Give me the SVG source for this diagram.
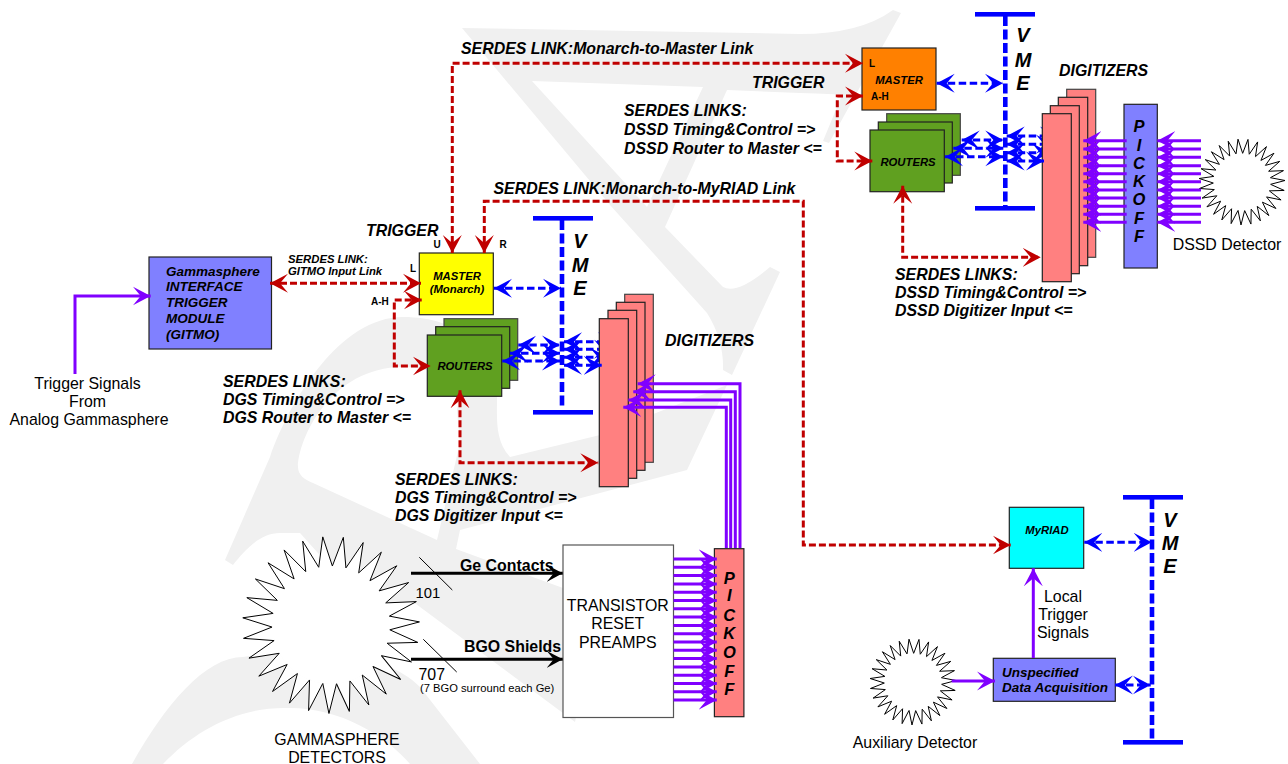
<svg xmlns="http://www.w3.org/2000/svg" xmlns:xlink="http://www.w3.org/1999/xlink" width="1288" height="764" viewBox="0 0 1288 764">
<style>
text{font-family:"Liberation Sans",Arial,sans-serif;fill:#000}
.bi{font-weight:bold;font-style:italic}
.b{font-weight:bold}
.s16{font-size:15.9px}
.s13{font-size:13.5px}
.s11{font-size:11.3px}
.s10{font-size:10px}
.v{font-size:20px;text-anchor:middle}
.p{font-size:16.5px;text-anchor:middle}
.m{text-anchor:middle}
.box{stroke:#222;stroke-width:1.2}
.back{stroke:#444}
.blue{fill:#8080ff}
.pink{fill:#ff8080}
.green{fill:#60a020}
.wm{fill:#f0f0f0}
.red{fill:none;stroke:#c00000;stroke-width:3;stroke-dasharray:7 3;marker-start:url(#hr);marker-end:url(#hr)}
.bl{fill:none;stroke:#0000ff;stroke-width:3;stroke-dasharray:7.5 3.5;marker-start:url(#hb);marker-end:url(#hb)}
.pu{fill:none;stroke:#8000ff;stroke-width:3;marker-end:url(#hp)}
.blk{fill:none;stroke:#000;stroke-width:3;marker-end:url(#hk)}
.bus{fill:none;stroke:#0000ff;stroke-width:4.6;stroke-dasharray:10 3.5}
.bar{fill:#0000ff}
.spike{fill:#fff;stroke:#000;stroke-width:1;vector-effect:non-scaling-stroke;stroke-linejoin:miter}
</style>
<defs>
<marker id="hr" markerUnits="userSpaceOnUse" markerWidth="20" markerHeight="22" viewBox="0 -11 20 22" refX="18" refY="0" orient="auto-start-reverse"><path d="M0,-9.5L18,0L0,9.5L8,0Z" fill="#c00000"/></marker>
<marker id="hb" markerUnits="userSpaceOnUse" markerWidth="20" markerHeight="22" viewBox="0 -11 20 22" refX="18" refY="0" orient="auto-start-reverse"><path d="M0,-9.5L18,0L0,9.5L8,0Z" fill="#0000ff"/></marker>
<marker id="hp" markerUnits="userSpaceOnUse" markerWidth="20" markerHeight="22" viewBox="0 -11 20 22" refX="18" refY="0" orient="auto"><path d="M0,-9.5L18,0L0,9.5L8,0Z" fill="#8000ff"/></marker>
<marker id="hk" markerUnits="userSpaceOnUse" markerWidth="20" markerHeight="22" viewBox="0 -11 20 22" refX="16" refY="0" orient="auto"><path d="M0,-8.5L16,0L0,8.5L7,0Z" fill="#000"/></marker>
<path id="sp" class="spike" d="M58.6,-6.85L88.5,0L58.6,6.85"/>
<g id="star" transform="rotate(-2)">
<circle r="59" fill="#fff"/>
<use href="#sp"/><use href="#sp" transform="rotate(13.333)"/><use href="#sp" transform="rotate(26.667)"/><use href="#sp" transform="rotate(40)"/><use href="#sp" transform="rotate(53.333)"/><use href="#sp" transform="rotate(66.667)"/><use href="#sp" transform="rotate(80)"/><use href="#sp" transform="rotate(93.333)"/><use href="#sp" transform="rotate(106.667)"/><use href="#sp" transform="rotate(120)"/><use href="#sp" transform="rotate(133.333)"/><use href="#sp" transform="rotate(146.667)"/><use href="#sp" transform="rotate(160)"/><use href="#sp" transform="rotate(173.333)"/><use href="#sp" transform="rotate(186.667)"/><use href="#sp" transform="rotate(200)"/><use href="#sp" transform="rotate(213.333)"/><use href="#sp" transform="rotate(226.667)"/><use href="#sp" transform="rotate(240)"/><use href="#sp" transform="rotate(253.333)"/><use href="#sp" transform="rotate(266.667)"/><use href="#sp" transform="rotate(280)"/><use href="#sp" transform="rotate(293.333)"/><use href="#sp" transform="rotate(306.667)"/><use href="#sp" transform="rotate(320)"/><use href="#sp" transform="rotate(333.333)"/><use href="#sp" transform="rotate(346.667)"/>
</g>
</defs>
<rect width="1288" height="764" fill="#fff"/>
<g id="watermark">
<path class="wm" fill-rule="evenodd" d="M462,28L800,34Q860,34 893,10L901,13L829,143L823,141L842,95Q835,94 800,93L727,90L665,227L723,287Q737,295 770,267L780,272L732,375L723,370Q724,340 707,313L610,205ZM532,81L703,87L647,207Z"/>
<path class="wm" fill-rule="evenodd" d="M225,560L270,457C290,400 340,317 403,317C460,317 497,350 497,397C497,420 495,440 510,457L600,435L727,385L687,470L460,530L456,549L563,588L600,605L575,722L416,604L360,600L300,533L280,533C260,533 245,550 233,565ZM298,467C298,440 330,367 403,367C440,367 462,385 457,410L460,443L437,540L313,483C305,480 298,475 298,467Z"/>
<path class="wm" d="M132,764C165,705 205,657 243,657C340,640 400,665 420,687L480,764L410,764C385,735 340,708 290,708C240,706 195,730 163,764Z"/>
</g>
<g id="connectors-behind">
<path class="bl" d="M1006.7,136H1058"/>
<path class="bl" d="M1006.7,144.3H1054"/>
<path class="bl" d="M1006.7,152.7H1050"/>
<path class="bl" d="M564,341.7H616"/>
<path class="bl" d="M564,349.3H612"/>
<path class="bl" d="M564,357.3H608"/>
</g>
<g id="gitmo">
<rect class="box blue" x="149" y="257" width="122.5" height="92"/>
<text class="bi s13" x="166" y="275.5">Gammasphere</text>
<text class="bi s13" x="166" y="291">INTERFACE</text>
<text class="bi s13" x="166" y="307">TRIGGER</text>
<text class="bi s13" x="166" y="322.5">MODULE</text>
<text class="bi s13" x="166" y="338.5">(GITMO)</text>
</g>
<g id="master-monarch">
<rect class="box" fill="#ffff00" x="419.3" y="253" width="74" height="61.7"/>
<text class="bi s11 m" x="457" y="280">MASTER</text>
<text class="bi s11 m" x="457" y="293">(Monarch)</text>
<text class="b s10 m" x="437" y="248">U</text>
<text class="b s10 m" x="503" y="248">R</text>
<text class="b s10 m" x="413" y="272">L</text>
<text class="b s10" x="371" y="305">A-H</text>
</g>
<g id="routers-dgs">
<rect class="box back green" x="444" y="318.7" width="73.7" height="61.6"/>
<rect class="box green" x="435.7" y="326.7" width="74" height="61.6"/>
<rect class="box green" x="427.3" y="335" width="74.4" height="61.3"/>
<text class="bi s11 m" x="465" y="370">ROUTERS</text>
</g>
<g id="digitizers-dgs">
<rect class="box back pink" x="624.7" y="294.3" width="28.6" height="168"/>
<rect class="box pink" x="616.3" y="302.3" width="28.7" height="168"/>
<rect class="box pink" x="608" y="310.3" width="28.7" height="168"/>
<rect class="box pink" x="599.3" y="318.7" width="29" height="168"/>
</g>
<g id="master-dssd">
<rect class="box" fill="#ff8000" x="862" y="48" width="74" height="62"/>
<text class="bi s11 m" x="899" y="84">MASTER</text>
<text class="b s10 m" x="872" y="67">L</text>
<text class="b s10" x="871" y="100">A-H</text>
</g>
<g id="routers-dssd">
<rect class="box back green" x="886.7" y="113.7" width="73.6" height="61.6"/>
<rect class="box green" x="878.3" y="122" width="74" height="61"/>
<rect class="box green" x="870" y="130" width="74.3" height="61.7"/>
<text class="bi s11 m" x="908" y="166">ROUTERS</text>
</g>
<g id="digitizers-dssd">
<rect class="box back pink" x="1066.7" y="89.3" width="29" height="168"/>
<rect class="box pink" x="1058.3" y="97.3" width="29.4" height="168.4"/>
<rect class="box pink" x="1050.3" y="105.7" width="29" height="168"/>
<rect class="box pink" x="1042.3" y="113.7" width="29" height="168"/>
</g>
<g id="pickoff-dssd">
<rect class="box blue" x="1124" y="104.3" width="33.3" height="163.7"/>
<text class="bi p" x="1139" y="132">P</text><text class="bi p" x="1139" y="151">I</text><text class="bi p" x="1139" y="169">C</text><text class="bi p" x="1139" y="187">K</text><text class="bi p" x="1139" y="205">O</text><text class="bi p" x="1139" y="224">F</text><text class="bi p" x="1139" y="242">F</text>
</g>
<g id="pickoff-dgs">
<rect class="box pink" x="714.4" y="548.7" width="29.5" height="168"/>
<text class="bi p" x="729.3" y="584">P</text><text class="bi p" x="729.3" y="601">I</text><text class="bi p" x="729.3" y="621">C</text><text class="bi p" x="729.3" y="639">K</text><text class="bi p" x="729.3" y="658">O</text><text class="bi p" x="729.3" y="676.5">F</text><text class="bi p" x="729.3" y="695">F</text>
</g>
<g id="preamps">
<rect x="563" y="545" width="110.5" height="172.5" fill="#fff" stroke="#555" stroke-width="1.2"/>
<text class="s16 m" x="617.8" y="611">TRANSISTOR</text>
<text class="s16 m" x="617.8" y="629">RESET</text>
<text class="s16 m" x="617.8" y="648">PREAMPS</text>
</g>
<g id="myriad">
<rect class="box" fill="#00ffff" x="1009.3" y="507.3" width="74.4" height="61"/>
<text class="bi s11 m" x="1047" y="534">MyRIAD</text>
</g>
<g id="daq">
<rect class="box blue" x="993.3" y="658.3" width="122" height="43"/>
<text class="bi s13" x="1002" y="677">Unspecified</text>
<text class="bi s13" x="1002" y="692">Data Acquisition</text>
</g>
<g id="gammasphere-detectors">
<use href="#star" transform="translate(331,625)"/>
<text class="s16 m" x="337" y="745">GAMMASPHERE</text>
<text class="s16 m" x="337" y="763">DETECTORS</text>
</g>
<g id="dssd-detector">
<use href="#star" transform="translate(1242,182) scale(.486)"/>
<text class="s16 m" x="1227" y="250">DSSD Detector</text>
</g>
<g id="aux-detector">
<use href="#star" transform="translate(913,682) scale(.486)"/>
<text class="s16 m" x="915" y="748">Auxiliary Detector</text>
</g>
<g id="vme-dssd">
<rect class="bar" x="975" y="12" width="60" height="4.6"/><rect class="bar" x="975" y="206" width="60" height="4.6"/>
<path class="bus" d="M1005.3,16V206"/>
<text class="bi v" x="1023" y="42">V</text><text class="bi v" x="1023" y="67">M</text><text class="bi v" x="1023" y="90">E</text>
</g>
<g id="vme-dgs">
<rect class="bar" x="533" y="216" width="60" height="4.6"/><rect class="bar" x="533" y="410" width="60" height="4.6"/>
<path class="bus" d="M562,220V406"/>
<text class="bi v" x="580" y="248">V</text><text class="bi v" x="580" y="272">M</text><text class="bi v" x="580" y="295">E</text>
</g>
<g id="vme-aux">
<rect class="bar" x="1123" y="495" width="60" height="4.6"/><rect class="bar" x="1123" y="740" width="60" height="4.6"/>
<path class="bus" d="M1152,499V740"/>
<text class="bi v" x="1170" y="527">V</text><text class="bi v" x="1170" y="550">M</text><text class="bi v" x="1170" y="573">E</text>
</g>
<g id="connectors">
<path class="red" d="M452.3,253V63.3H863"/>
<path class="red" d="M484.3,253V201.3H803.3V545H1010.7"/>
<path class="red" d="M863,96H837.3V161H872.3"/>
<path class="red" d="M902.7,185.7V257.3H1040.7"/>
<path class="red" d="M270,283.3H421"/>
<path class="red" d="M421.7,300H394.3V366H430.7"/>
<path class="red" d="M460,390.3V462.7H598.3"/>
<path class="bl" d="M936.7,83.3H1003"/>
<path class="bl" d="M961.7,140H1003.3"/>
<path class="bl" d="M953.3,148.3H1003.3"/>
<path class="bl" d="M945,156.7H1003.3"/>
<path class="bl" d="M1006.7,161H1044"/>
<path class="bl" d="M494,288.3H561"/>
<path class="bl" d="M518.3,345H560"/>
<path class="bl" d="M510,353.3H560"/>
<path class="bl" d="M502.3,361H560"/>
<path class="bl" d="M564,365.3H601.7"/>
<path class="bl" d="M1084.3,542.3H1151.7"/>
<path class="bl" d="M1115,685H1150.7"/>
<path class="pu" d="M75,374V296H150.7"/>
<path class="pu" d="M1033.3,658V568.3"/>
<path class="pu" d="M951.7,681H995"/>
<path class="pu" d="M740,548V383.7H637.7"/>
<path class="pu" d="M735.3,548V391.7H633.3"/>
<path class="pu" d="M730.7,548V400H628.3"/>
<path class="pu" d="M726.3,548V407.3H623.3"/>
<path class="pu" d="M1126.7,140.7H1083.3"/><path class="pu" d="M1126.7,149H1083.3"/><path class="pu" d="M1126.7,157.3H1083.3"/><path class="pu" d="M1126.7,165.7H1083.3"/><path class="pu" d="M1126.7,173.7H1083.3"/><path class="pu" d="M1126.7,181.7H1083.3"/><path class="pu" d="M1126.7,190H1083.3"/><path class="pu" d="M1126.7,198H1083.3"/><path class="pu" d="M1126.7,206.3H1083.3"/><path class="pu" d="M1126.7,214.3H1083.3"/><path class="pu" d="M1126.7,222.3H1083.3"/>
<path class="pu" d="M1201,140.7H1157.3"/><path class="pu" d="M1201,149H1157.3"/><path class="pu" d="M1201,157.3H1157.3"/><path class="pu" d="M1201,165.7H1157.3"/><path class="pu" d="M1201,173.7H1157.3"/><path class="pu" d="M1201,181.7H1157.3"/><path class="pu" d="M1201,190H1157.3"/><path class="pu" d="M1201,198H1157.3"/><path class="pu" d="M1201,206.3H1157.3"/><path class="pu" d="M1201,214.3H1157.3"/><path class="pu" d="M1201,222.3H1157.3"/>
<path class="pu" d="M673.5,559H716.8"/><path class="pu" d="M673.5,567.3H716.8"/><path class="pu" d="M673.5,575.6H716.8"/><path class="pu" d="M673.5,583.9H716.8"/><path class="pu" d="M673.5,592.2H716.8"/><path class="pu" d="M673.5,600.5H716.8"/><path class="pu" d="M673.5,608.8H716.8"/><path class="pu" d="M673.5,617.1H716.8"/><path class="pu" d="M673.5,625.4H716.8"/><path class="pu" d="M673.5,633.7H716.8"/><path class="pu" d="M673.5,642H716.8"/><path class="pu" d="M673.5,650.3H716.8"/><path class="pu" d="M673.5,658.6H716.8"/><path class="pu" d="M673.5,666.9H716.8"/><path class="pu" d="M673.5,675.2H716.8"/><path class="pu" d="M673.5,683.5H716.8"/><path class="pu" d="M673.5,691.8H716.8"/><path class="pu" d="M673.5,700H716.8"/>
<path class="blk" d="M411,573.3H562.7"/>
<path class="blk" d="M411,659.3H562.7"/>
<path d="M419.3,557.3L452.3,590M423.3,639.3L456.7,672" stroke="#000" stroke-width="1" fill="none"/>
</g>
<g id="labels">
<text class="bi s16" x="461" y="54">SERDES LINK:Monarch-to-Master Link</text>
<text class="bi s16" x="752" y="88">TRIGGER</text>
<text class="bi s16" x="624" y="116">SERDES LINKS:</text>
<text class="bi s16" x="624" y="135">DSSD Timing&amp;Control =&gt;</text>
<text class="bi s16" x="624" y="153.5">DSSD Router to Master &lt;=</text>
<text class="bi s16" x="493.5" y="194">SERDES LINK:Monarch-to-MyRIAD Link</text>
<text class="bi s16" x="1059" y="76">DIGITIZERS</text>
<text class="bi s16" x="665" y="345.5">DIGITIZERS</text>
<text class="bi s16" x="366" y="236">TRIGGER</text>
<text class="bi s11" x="288" y="263">SERDES LINK:</text>
<text class="bi s11" x="288" y="275">GITMO Input Link</text>
<text class="bi s16" x="223" y="387">SERDES LINKS:</text>
<text class="bi s16" x="223" y="405">DGS Timing&amp;Control =&gt;</text>
<text class="bi s16" x="223" y="423">DGS Router to Master &lt;=</text>
<text class="bi s16" x="395" y="485">SERDES LINKS:</text>
<text class="bi s16" x="395" y="503">DGS Timing&amp;Control =&gt;</text>
<text class="bi s16" x="395" y="521">DGS Digitizer Input &lt;=</text>
<text class="bi s16" x="895" y="280">SERDES LINKS:</text>
<text class="bi s16" x="895" y="298">DSSD Timing&amp;Control =&gt;</text>
<text class="bi s16" x="895" y="316">DSSD Digitizer Input &lt;=</text>
<text class="s16 m" x="87.5" y="389">Trigger Signals</text>
<text class="s16 m" x="87.5" y="407">From</text>
<text class="s16 m" x="89" y="425">Analog Gammasphere</text>
<text class="b s16" x="460" y="571">Ge Contacts</text>
<text class="b s16" x="464" y="652">BGO Shields</text>
<text x="415.5" y="598" font-size="14.8">101</text>
<text class="s16" x="418.5" y="680">707</text>
<text x="420" y="692" font-size="11.2">(7 BGO surround each Ge)</text>
<text class="s16 m" x="1063" y="602">Local</text>
<text class="s16 m" x="1063" y="620">Trigger</text>
<text class="s16 m" x="1063" y="638">Signals</text>
</g>
</svg>
